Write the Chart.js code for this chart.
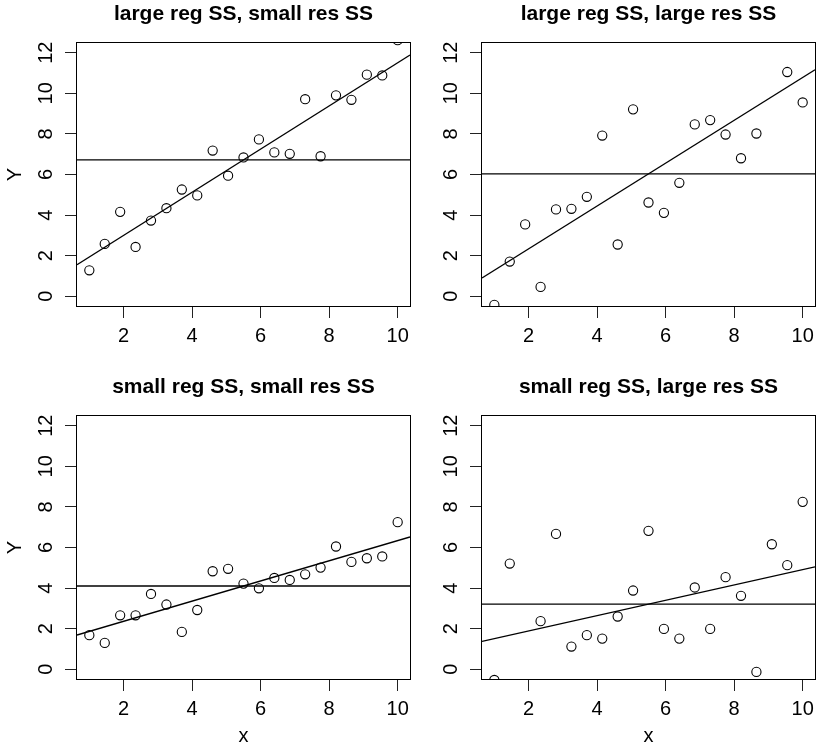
<!DOCTYPE html>
<html>
<head>
<meta charset="utf-8">
<script src="https://cdn.jsdelivr.net/npm/chart.js@4.4.1/dist/chart.umd.min.js"></script>
<style>
  body { margin: 0; background: #fff; }
  #wrap { position: relative; width: 817px; height: 750px; overflow: hidden; background: #fff; }
  #wrap canvas { position: absolute; }
</style>
</head>
<body>
<div id="wrap">
  <canvas id="p1" width="487" height="375" style="left:0px;top:0px"></canvas>
  <canvas id="p2" width="487" height="375" style="left:405px;top:0px"></canvas>
  <canvas id="p3" width="487" height="375" style="left:0px;top:373px"></canvas>
  <canvas id="p4" width="487" height="375" style="left:405px;top:373px"></canvas>
</div>
<script>
// data
const xValues = [1, 1.45, 1.9, 2.35, 2.8, 3.25, 3.7, 4.15, 4.6, 5.05, 5.5, 5.95, 6.4, 6.85, 7.3, 7.75, 8.2, 8.65, 9.1, 9.55, 10];
const yLargeRegSmallRes = [1.28, 2.58, 4.16, 2.43, 3.73, 4.34, 5.26, 4.97, 7.18, 5.94, 6.84, 7.73, 7.09, 7.02, 9.71, 6.90, 9.90, 9.68, 10.92, 10.88, 12.62];
const yLargeRegLargeRes = [-0.42, 1.71, 3.54, 0.46, 4.28, 4.31, 4.90, 7.92, 2.55, 9.21, 4.62, 4.11, 5.59, 8.47, 8.68, 7.97, 6.80, 8.02, 13.3, 11.05, 9.55];
const ySmallRegSmallRes = [1.68, 1.30, 2.66, 2.66, 3.71, 3.19, 1.84, 2.92, 4.83, 4.95, 4.22, 3.99, 4.50, 4.40, 4.68, 5.01, 6.05, 5.29, 5.47, 5.56, 7.25];
const ySmallRegLargeRes = [-0.53, 5.21, -1.05, 2.37, 6.67, 1.12, 1.68, 1.51, 2.60, 3.88, 6.82, 1.99, 1.51, 4.03, 1.99, 4.54, 3.62, -0.13, 6.16, 5.13, 8.25];
const panelTitles = ["large reg SS, small res SS", "large reg SS, large res SS", "small reg SS, small res SS", "small reg SS, large res SS"];
const xTicks = [2, 4, 6, 8, 10];
const yTicks = [0, 2, 4, 6, 8, 10, 12];
const xRange = [1, 10];
const yRange = [0, 12];

const FONT = "'Liberation Sans', Arial, Helvetica, sans-serif";
Chart.defaults.font.family = FONT;
Chart.defaults.color = '#000';

// R style 4% axis extension
const ext = r => [r[0] - 0.04 * (r[1] - r[0]), r[1] + 0.04 * (r[1] - r[0])];
const xLim = ext(xRange);
const yLim = ext(yRange);

const boxPlugin = {
  id: 'box',
  afterDatasetsDraw(chart) {
    const a = chart.chartArea;
    const ctx = chart.ctx;
    ctx.save();
    ctx.strokeStyle = '#000';
    ctx.lineWidth = 1;
    ctx.strokeRect(a.left - 0.5, a.top - 0.5, a.right - a.left + 1, a.bottom - a.top + 1);
    ctx.restore();
  }
};

function fitLine(xs, ys) {
  const n = xs.length;
  const mx = xs.reduce((s, v) => s + v, 0) / n;
  const my = ys.reduce((s, v) => s + v, 0) / n;
  let sxy = 0, sxx = 0;
  for (let i = 0; i < n; i++) {
    sxy += (xs[i] - mx) * (ys[i] - my);
    sxx += (xs[i] - mx) * (xs[i] - mx);
  }
  const b = sxy / sxx;
  return { mean: my, a: my - b * mx, b: b };
}

function makePanel(id, title, ys, showY, showX) {
  const f = fitLine(xValues, ys);
  const pts = xValues.map((x, i) => ({ x: x, y: ys[i] }));
  const lineStyle = { showLine: true, pointRadius: 0, borderColor: '#000', borderWidth: 1.3, clip: 0 };

  new Chart(id, {
    type: 'scatter',
    data: {
      datasets: [
        { data: pts, showLine: false, pointStyle: 'circle', pointRadius: 4.6, pointHoverRadius: 4.6,
          pointBorderWidth: 1.1, borderColor: '#000', backgroundColor: 'rgba(0,0,0,0)', clip: 0 },
        Object.assign({ data: [{ x: xLim[0], y: f.mean }, { x: xLim[1], y: f.mean }] }, lineStyle),
        Object.assign({ data: [{ x: xLim[0], y: f.a + f.b * xLim[0] }, { x: xLim[1], y: f.a + f.b * xLim[1] }] }, lineStyle)
      ]
    },
    options: {
      responsive: false,
      animation: false,
      events: [],
      layout: { padding: 0 },
      plugins: {
        legend: { display: false },
        tooltip: { enabled: false },
        title: {
          display: true, text: title, color: '#000',
          font: { size: 21, weight: 'bold', lineHeight: 1 },
          padding: { top: 4, bottom: 18 }
        }
      },
      scales: {
        x: {
          type: 'linear', position: 'bottom', min: xLim[0], max: xLim[1],
          afterBuildTicks: s => { s.ticks = xTicks.map(v => ({ value: v })) },
          afterFit: s => { s.height = 69; s.paddingLeft = 0; s.paddingRight = 0 },
          grid: { display: true, drawOnChartArea: false, drawTicks: true, tickLength: 12, tickColor: '#222' },
          border: { display: false },
          ticks: { font: { size: 20, lineHeight: 1 }, padding: 8, color: '#000', maxRotation: 0, autoSkip: false },
          title: { display: showX, text: 'x', color: '#000', font: { size: 20, lineHeight: 1 }, padding: { top: 0, bottom: 1.2 } }
        },
        y: {
          type: 'linear', position: 'left', min: yLim[0], max: yLim[1],
          afterBuildTicks: s => { s.ticks = yTicks.map(v => ({ value: v })) },
          afterFit: s => { s.width = 77; s.paddingTop = 0; s.paddingBottom = 0 },
          grid: { display: true, drawOnChartArea: false, drawTicks: true, tickLength: 12, tickColor: '#222' },
          border: { display: false },
          ticks: { font: { size: 20, lineHeight: 1 }, padding: 7.2, color: '#000', minRotation: 90, maxRotation: 90,
                   crossAlign: 'center', autoSkip: false },
          title: { display: showY, text: 'Y', color: '#000', font: { size: 20, lineHeight: 1 }, padding: { top: 5, bottom: 0 } }
        },
        yRight: {
          type: 'linear', axis: 'y', position: 'right', display: true,
          ticks: { display: false }, grid: { display: false }, border: { display: false },
          afterFit: s => { s.width = 77 }
        }
      }
    },
    plugins: [boxPlugin]
  });
}

makePanel('p1', panelTitles[0], yLargeRegSmallRes, true, false);
makePanel('p2', panelTitles[1], yLargeRegLargeRes, false, false);
makePanel('p3', panelTitles[2], ySmallRegSmallRes, true, true);
makePanel('p4', panelTitles[3], ySmallRegLargeRes, false, true);
</script>
</body>
</html>
